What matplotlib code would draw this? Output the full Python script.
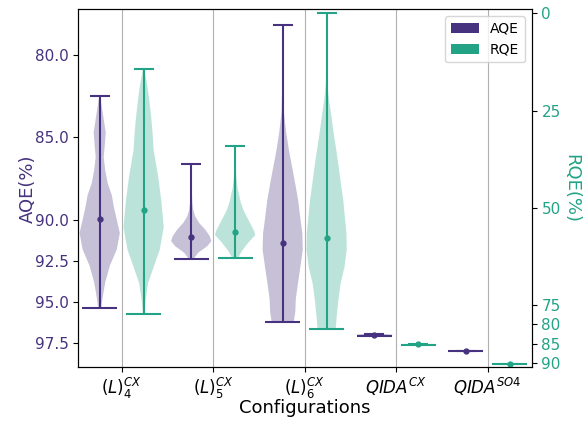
import matplotlib
matplotlib.use("Agg")
import matplotlib.pyplot as plt
from matplotlib.patches import Patch
from matplotlib.ticker import FormatStrFormatter
import numpy as np

categories = [r'$(L)_4^{CX}$', r'$(L)_5^{CX}$', r'$(L)_6^{CX}$',
              r'$QIDA^{CX}$', r'$QIDA^{SO4}$']

# violin outlines: (value, relative half-width)
aqe_l4 = [(82.5, 0.5), (83.5, 3), (84.7, 6), (85.5, 5), (86.2, 4), (87.0, 5.5),
          (87.8, 8), (88.5, 12), (89.2, 14), (90.0, 17), (90.8, 20), (91.8, 17),
          (92.8, 10), (93.8, 5.5), (94.8, 2.7), (95.33, 1.5)]
aqe_l5 = [(86.6, 0.2), (87.5, 0.4), (88.5, 0.8), (89.0, 1.2), (89.4, 2), (89.8, 4),
          (90.2, 8), (90.6, 14), (91.0, 18.5), (91.3, 20), (91.6, 16), (92.0, 7),
          (92.4, 2)]
aqe_l6 = [(78.2, 0.2), (80.0, 0.3), (82.0, 0.5), (83.5, 1.2), (84.7, 3.3), (85.8, 6),
          (86.8, 9), (88.0, 12.5), (88.8, 14.7), (90.0, 17), (90.8, 18.7), (91.8, 19.2),
          (92.8, 17), (93.8, 14.7), (94.8, 12.5), (95.6, 12), (96.2, 10.5)]
aqe_qcx = [(96.91, 0.3), (96.97, 1.0), (97.03, 0.3)]
aqe_qso4 = [(97.98, 1.0)]

rqe_l4 = [(14.2, 0.5), (18, 3.3), (22, 5.5), (26.6, 7.5), (31, 9), (35.2, 10),
          (42, 14.5), (48, 17.5), (55, 20), (60.8, 16), (65.2, 10), (69.3, 4.5),
          (73.7, 2), (77.2, 0.8)]
rqe_l5 = [(34.1, 0.3), (38, 0.6), (42, 1.2), (45, 2.5), (46.3, 3.7), (48.5, 5.5),
          (50.6, 8.3), (52.5, 12), (54, 15), (56, 19), (57, 20), (59, 13), (61, 7),
          (62.8, 3)]
rqe_l6 = [(0, 0.2), (10, 0.3), (18, 0.8), (21.5, 2), (26, 4.5), (30.8, 7), (35, 9.5),
          (39.4, 12), (44, 14.3), (48, 16.5), (52, 18), (56.5, 19.7), (60.8, 20),
          (65.2, 17.8), (69.3, 14), (73.7, 11.7), (78, 10), (81.2, 9)]
rqe_qcx = [(84.9, 0.3), (85.1, 1.0), (85.4, 0.3)]
rqe_qso4 = [(90.05, 1.0)]

aqe_means = [89.95, 91.07, 91.4, 96.97, 97.98]
rqe_means = [50.6, 56.2, 57.8, 85.1, 90.05]

aqe_color = '#46327e'
rqe_color = '#22a386'


def make_stats(outline, mean):
    ys = np.array([p[0] for p in outline], dtype=float)
    ws = np.array([p[1] for p in outline], dtype=float)
    return dict(coords=ys, vals=ws, mean=mean, median=mean,
                min=ys.min(), max=ys.max())


def draw(ax, outlines, means, pos, color):
    stats = [make_stats(o, m) for o, m in zip(outlines, means)]
    parts = ax.violin(stats, positions=pos, widths=0.44, showmeans=False,
                      showextrema=False, showmedians=False)
    for b in parts['bodies']:
        b.set_facecolor(color)
        b.set_edgecolor('none')
        b.set_alpha(0.3)
    lows = [s['min'] for s in stats]
    highs = [s['max'] for s in stats]
    ax.vlines(pos, lows, highs, color=color, lw=1.5)
    ax.hlines(lows, pos - 0.11, pos + 0.11, color=color, lw=1.5)
    ax.hlines(highs, pos - 0.19, pos + 0.19, color=color, lw=1.5)
    ax.plot(pos, means, 'o', color=color, ms=3.5)


x = np.arange(len(categories))

fig = plt.figure(figsize=(5.86, 4.21), dpi=100)
ax = fig.add_axes([0.1336, 0.1276, 0.7737, 0.8503])
ax2 = ax.twinx()

draw(ax, [aqe_l4, aqe_l5, aqe_l6, aqe_qcx, aqe_qso4], aqe_means, x - 0.24, aqe_color)
draw(ax2, [rqe_l4, rqe_l5, rqe_l6, rqe_qcx, rqe_qso4], rqe_means, x + 0.24, rqe_color)

ax.set_xlim(-0.474, 4.481)
ax.set_xticks(x)
ax.set_xticklabels(categories, fontsize=12)
ax.tick_params(axis='x', pad=2.5)
ax.grid(axis='x', color='#b0b0b0', lw=0.8)

ax.set_ylim(98.95, 77.23)
ax.set_yticks([80, 85, 90, 92.5, 95, 97.5])
ax.yaxis.set_major_formatter(FormatStrFormatter('%.1f'))
ax.tick_params(axis='y', labelcolor=aqe_color, labelsize=11)
ax.set_ylabel('AQE(%)', color=aqe_color, fontsize=13, labelpad=-1.5)
ax.set_xlabel('Configurations', fontsize=13, labelpad=-1.5)

ax2.set_ylim(91.0, -1.03)
ax2.set_yticks([0, 25, 50, 75, 80, 85, 90])
ax2.tick_params(axis='y', labelcolor=rqe_color, labelsize=11)
ax2.set_ylabel('RQE(%)', color=rqe_color, fontsize=13, rotation=270,
               va='bottom', labelpad=1)

handles = [Patch(facecolor=aqe_color), Patch(facecolor=rqe_color)]
ax2.legend(handles, ['AQE', 'RQE'], loc='upper right', fontsize=10)

fig.savefig('out.png', dpi=100)
